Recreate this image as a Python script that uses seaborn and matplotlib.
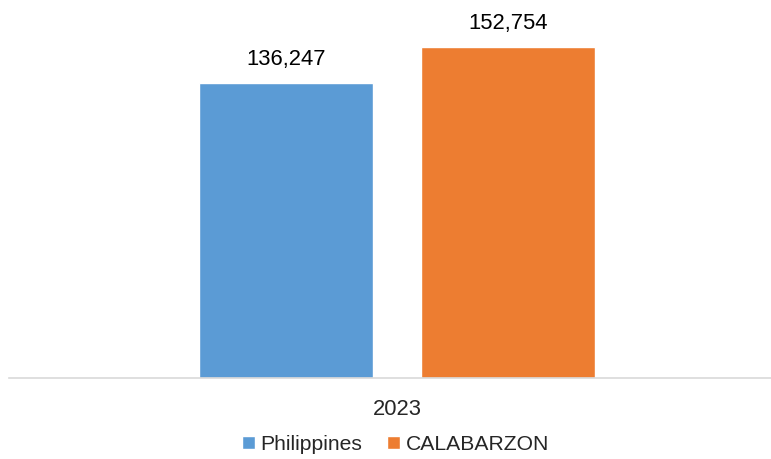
import pandas as pd
import seaborn as sns
import matplotlib.pyplot as plt
from matplotlib.patches import Patch

sns.set_style('white')
plt.rcParams['font.family'] = ['Liberation Sans', 'DejaVu Sans']

years = ['2023']
regions = ['Philippines', 'CALABARZON']
values = [136247, 152754]
colors = ['#5B9BD5', '#ED7D31']

df = pd.DataFrame({'year': years * 2, 'region': regions, 'value': values})

fig = plt.figure(figsize=(7.71, 4.59), dpi=100)
ax = fig.add_axes([9 / 771, 81 / 459, 762 / 771, 378 / 459])

sns.barplot(data=df, x='year', y='value', hue='region', palette=colors,
            width=0.8, gap=0.216, legend=False, ax=ax, saturation=1)

for cont in ax.containers:
    ax.bar_label(cont, labels=[f'{v:,.0f}' for v in cont.datavalues],
                 padding=9, fontsize=15.8, color='#000000')

ax.set_xlim(-0.699, 0.674)
ax.set_ylim(0, 174440)
ax.set_xlabel('')
ax.set_ylabel('')
ax.set_yticks([])
ax.tick_params(axis='x', length=0, labelsize=15.8, pad=15)
for s in ['top', 'right', 'left']:
    ax.spines[s].set_visible(False)
ax.spines['bottom'].set_color('#D9D9D9')
ax.spines['bottom'].set_linewidth(1.2)

handles = [Patch(facecolor=c, label=r) for c, r in zip(colors, regions)]
fig.legend(handles=handles, loc='lower center', bbox_to_anchor=(0.513, -0.03),
           ncol=2, frameon=False, fontsize=15.2, handlelength=0.6, handleheight=0.6,
           handletextpad=0.25, columnspacing=1.2)

fig.savefig('out.png', dpi=100)
